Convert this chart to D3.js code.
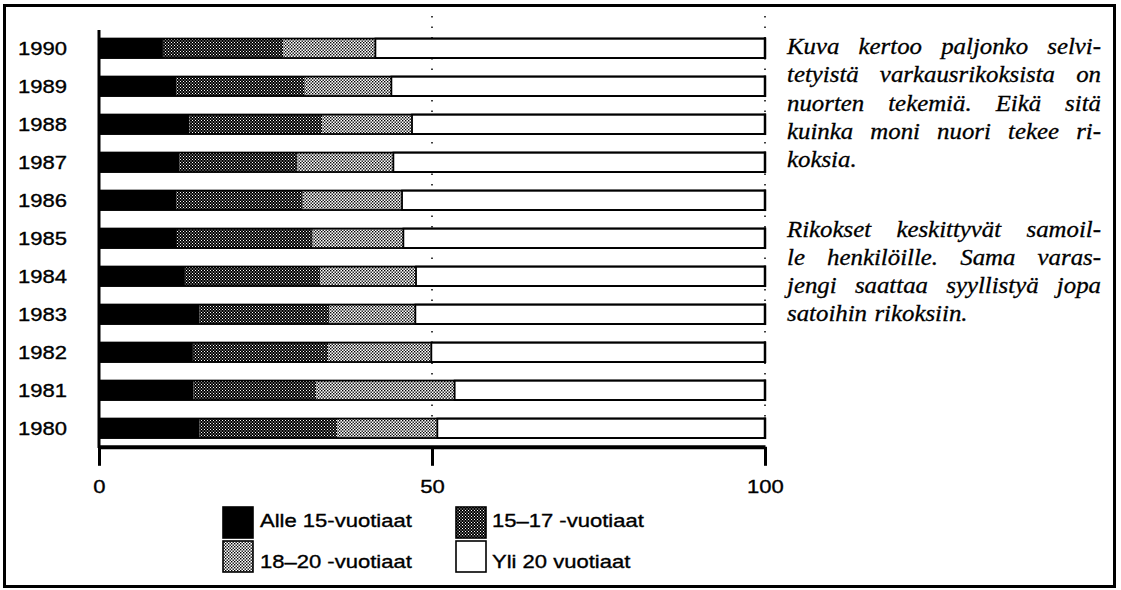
<!DOCTYPE html>
<html>
<head>
<meta charset="utf-8">
<script src="https://cdn.jsdelivr.net/npm/d3@7"></script>
<style>
  html, body { margin: 0; padding: 0; background: #fff; }
  svg { display: block; }
</style>
</head>
<body>
<div id="chart"></div>
<script>
// ---- DATA ----
const years   = ["1990","1989","1988","1987","1986","1985","1984","1983","1982","1981","1980"];
const alle15  = [9.6, 11.6, 13.6, 12.1, 11.6, 11.7, 12.9, 15.1, 14.1, 14.2, 15.1];
const v15_17  = [18.1, 19.3, 19.9, 17.7, 19.0, 20.4, 20.3, 19.5, 20.3, 18.4, 20.7];
const v18_20  = [13.8, 13.0, 13.5, 14.4, 14.9, 13.6, 14.4, 12.9, 15.5, 20.8, 15.0];
const yli20   = [58.5, 56.1, 53.0, 55.8, 54.5, 54.3, 52.4, 52.5, 50.1, 46.6, 49.2];
const seriesKeys   = ["alle15", "v15_17", "v18_20", "yli20"];
const seriesLabels = ["Alle 15-vuotiaat", "15\u201317 -vuotiaat", "18\u201320 -vuotiaat", "Yli 20 vuotiaat"];
const xTicks = [0, 50, 100];
const para1 = ["Kuva kertoo paljonko selvi-", "tetyistä varkausrikoksista on", "nuorten tekemiä. Eikä sitä", "kuinka moni nuori tekee ri-", "koksia."];
const para2 = ["Rikokset keskittyvät samoil-", "le henkilöille. Sama varas-", "jengi saattaa syyllistyä jopa", "satoihin rikoksiin."];

// ---- SETUP ----
const W = 1121, H = 590;
const SX = 1.16;  // horizontal stretch of the scanned sans lettering
const SXS = 1.08; // horizontal stretch of the serif lettering
const sans = "Liberation Sans";
const serif = "Liberation Serif";

const svg = d3.select("#chart").append("svg").attr("width", W).attr("height", H);
const defs = svg.append("defs");

// dotted screen patterns
const p1 = defs.append("pattern").attr("id", "p1517").attr("patternUnits", "userSpaceOnUse")
  .attr("width", 3).attr("height", 3);
p1.append("rect").attr("width", 3).attr("height", 3).attr("fill", "#000");
p1.append("rect").attr("x", 0).attr("y", 0).attr("width", 1).attr("height", 1).attr("fill", "#fff");
p1.append("rect").attr("x", 1.5).attr("y", 1.5).attr("width", 1).attr("height", 1).attr("fill", "#fff");

const p2 = defs.append("pattern").attr("id", "p1820").attr("patternUnits", "userSpaceOnUse")
  .attr("width", 3).attr("height", 3);
p2.append("rect").attr("width", 3).attr("height", 3).attr("fill", "#fff");
p2.append("rect").attr("x", 0).attr("y", 0).attr("width", 1.4).attr("height", 1.4).attr("fill", "#000");
p2.append("rect").attr("x", 1.5).attr("y", 1.5).attr("width", 1.4).attr("height", 1.4).attr("fill", "#000");

const fills = { alle15: "#000", v15_17: "url(#p1517)", v18_20: "url(#p1820)", yli20: "#fff" };

// outer frame
svg.append("rect").attr("x", 4.5).attr("y", 5.5).attr("width", 1110).attr("height", 581)
  .attr("fill", "none").attr("stroke", "#000").attr("stroke-width", 3);

// scales
const x = d3.scaleLinear().domain([0, 100]).range([99, 765]);
const y = d3.scaleBand().domain(years).range([29.3, 447.3]).paddingInner(0.487).paddingOuter(0.2435);

// dotted gridlines at 50 and 100
svg.append("g").selectAll("line").data([50, 100]).join("line")
  .attr("x1", d => x(d)).attr("x2", d => x(d))
  .attr("y1", 16).attr("y2", 446)
  .attr("stroke", "#000").attr("stroke-width", 1.5)
  .attr("stroke-dasharray", "1.5,9");

// stacked bars
const table = years.map((yr, i) => ({ year: yr, alle15: alle15[i], v15_17: v15_17[i], v18_20: v18_20[i], yli20: yli20[i] }));
const stacked = d3.stack().keys(seriesKeys)(table);

const barsG = svg.append("g");
stacked.forEach(layer => {
  barsG.append("g").selectAll("rect").data(layer).join("rect")
    .attr("x", d => x(d[0]))
    .attr("y", d => y(d.data.year))
    .attr("width", d => x(d[1]) - x(d[0]))
    .attr("height", y.bandwidth())
    .attr("fill", fills[layer.key])
    .attr("stroke", layer.key === "yli20" ? "#000" : "none")
    .attr("stroke-width", 1.8);
});
// outline of each whole bar
barsG.append("g").selectAll("rect").data(table).join("rect")
  .attr("x", x(0)).attr("y", d => y(d.year))
  .attr("width", x(100) - x(0)).attr("height", y.bandwidth())
  .attr("fill", "none").attr("stroke", "#000").attr("stroke-width", 1.8);
barsG.append("g").selectAll("line").data(table).join("line")
  .attr("x1", x(100)).attr("x2", x(100))
  .attr("y1", d => y(d.year) - 1).attr("y2", d => y(d.year) + y.bandwidth() + 1)
  .attr("stroke", "#000").attr("stroke-width", 2.5);

// y axis (labels only) + vertical line
const yAxis = svg.append("g").attr("transform", "translate(99,0)")
  .call(d3.axisLeft(y).tickSize(0).tickPadding(0));
yAxis.attr("font-family", null).attr("font-size", null);
yAxis.select(".domain").remove();
yAxis.selectAll("text")
  .attr("x", -32 / SX).attr("dy", "0.36em")
  .attr("transform", `scale(${SX},1)`)
  .attr("font-family", sans).attr("font-size", 19).attr("fill", "#000")
  .attr("stroke", "#000").attr("stroke-width", 0.35);
svg.append("line").attr("x1", 99).attr("x2", 99).attr("y1", 30).attr("y2", 448)
  .attr("stroke", "#000").attr("stroke-width", 3);

// x axis
const xAxis = svg.append("g").attr("transform", "translate(0,446.8)")
  .call(d3.axisBottom(x).tickValues(xTicks).tickSize(19).tickPadding(0).tickSizeOuter(0));
xAxis.attr("font-family", null).attr("font-size", null);
xAxis.select(".domain").attr("stroke", "#000").attr("stroke-width", 4);
xAxis.selectAll(".tick line").attr("stroke", "#000").attr("stroke-width", 3);
xAxis.selectAll(".tick text")
  .attr("y", 0).attr("dy", null)
  .attr("transform", `translate(0,46.5) scale(${SX},1)`)
  .attr("font-family", sans).attr("font-size", 19).attr("fill", "#000")
  .attr("stroke", "#000").attr("stroke-width", 0.35);

// legend
const legendPos = [
  { sx: 223, sy: 507, tx: 260, ty: 527 },
  { sx: 456, sy: 507, tx: 492, ty: 527 },
  { sx: 223, sy: 541, tx: 260, ty: 568 },
  { sx: 456, sy: 541, tx: 492, ty: 568 }
];
const legend = svg.append("g");
seriesKeys.forEach((k, i) => {
  const p = legendPos[i];
  legend.append("rect").attr("x", p.sx).attr("y", p.sy).attr("width", 30).attr("height", 31)
    .attr("fill", fills[k]).attr("stroke", "#000").attr("stroke-width", 1.6);
  legend.append("text").attr("transform", `translate(${p.tx},${p.ty}) scale(${SX},1)`)
    .attr("font-family", sans).attr("font-size", 19).attr("fill", "#000")
    .attr("stroke", "#000").attr("stroke-width", 0.35)
    .text(seriesLabels[i]);
});

// justified italic paragraphs
const textX = 787, textW = 314;
function paragraph(lines, baseline0, lh) {
  lines.forEach((line, li) => {
    const g = svg.append("g").attr("transform", `translate(${textX},${baseline0 + li * lh}) scale(${SXS},1)`);
    const t = g.append("text").attr("font-family", serif).attr("font-style", "italic")
      .attr("font-size", 23).attr("fill", "#000")
      .attr("stroke", "#000").attr("stroke-width", 0.3);
    const words = line.split(" ");
    const last = li === lines.length - 1;
    const spans = words.map(w => t.append("tspan").text(w));
    const widths = spans.map(s => s.node().getComputedTextLength());
    const total = d3.sum(widths);
    const target = textW / SXS;
    const gap = (!last && words.length > 1) ? (target - total) / (words.length - 1) : 23 * 0.3;
    let cx = 0;
    spans.forEach((s, i) => { s.attr("x", cx).attr("y", 0); cx += widths[i] + gap; });
  });
}
paragraph(para1, 54, 28.3);
paragraph(para2, 237, 28.1);
</script>
</body>
</html>
